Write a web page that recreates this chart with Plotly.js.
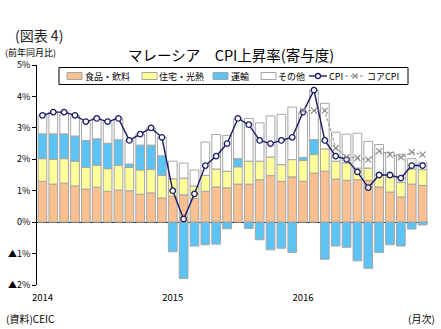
<!DOCTYPE html>
<html><head><meta charset="utf-8">
<script src="https://cdn.plot.ly/plotly-3.0.1.min.js"></script>
<style>html,body{margin:0;padding:0;background:#fff}#chart{width:441px;height:329px}</style>
</head><body><div id="chart"></div>
<script>
const months = [];
for (const y of [2014, 2015, 2016]) for (let m = 1; m <= 12; m++) months.push(y + '-' + String(m).padStart(2, '0'));

const food = [1.30,1.21,1.24,1.15,1.05,1.11,0.98,1.02,1.00,0.89,0.93,0.77,
  0.82,0.87,0.75,0.98,1.12,1.09,1.21,1.21,1.35,1.48,1.30,1.44,
  1.30,1.56,1.62,1.37,1.33,1.35,1.33,1.12,0.96,0.80,1.21,1.17];
const housing = [0.72,0.79,0.78,0.79,0.69,0.70,0.72,0.79,0.74,0.77,0.75,0.72,
  0.56,0.53,0.40,0.51,0.57,0.53,0.55,0.73,0.59,0.59,0.53,0.55,
  0.66,0.59,0.71,0.57,0.55,0.37,0.39,0.39,0.48,0.47,0.48,0.50];
const transport = [0.79,0.81,0.79,0.80,0.86,0.84,0.81,0.81,0.11,0.79,0.77,0.62,
  -0.94,-1.79,-0.76,-0.72,-0.70,-0.21,0.26,-0.20,-0.56,-0.88,-0.83,-0.96,
  0.10,0.48,-1.18,-0.76,-0.80,-1.23,-1.47,-0.97,-0.72,-0.76,-0.22,-0.09];
const others = [0.59,0.69,0.69,0.66,0.60,0.65,0.69,0.68,0.75,0.35,0.55,0.59,
  0.56,0.48,0.51,1.06,1.10,1.14,1.27,1.36,1.22,1.31,1.60,1.67,
  1.44,1.57,1.45,0.92,0.92,1.11,0.85,0.96,0.78,0.89,0.33,0.22];
const cpi = [3.4,3.5,3.5,3.4,3.2,3.3,3.2,3.3,2.6,2.8,3.0,2.7,
  1.0,0.1,0.9,1.8,2.1,2.5,3.3,3.1,2.6,2.5,2.6,2.7,
  3.5,4.2,2.6,2.1,2.0,1.6,1.1,1.5,1.5,1.4,1.8,1.8];
const core = [null,null,null,null,null,null,null,null,null,null,null,null,
  null,null,null,null,null,null,null,null,null,null,null,null,
  3.55,3.55,3.55,2.36,2.07,2.04,1.99,2.26,2.15,2.06,2.23,2.15];

const seriesNames = ['食品・飲料','住宅・光熱','運輸','その他','CPI','コアCPI'];
const yTickVals = [-2,-1,0,1,2,3,4,5];
const yTickText = ['▲2%','▲1%','0%','1%','2%','3%','4%','5%'];
const xTickVals = ['2014-01','2015-01','2016-01'];
const xTickText = ['2014','2015','2016'];

const F = '"Noto Sans CJK JP", "Noto Sans", sans-serif';
const NAVY = '#1C1C66', GREY = '#8C8C8C', EDGE = '#A6A6A6';
const colors = ['#FAC090','#FFFF99','#5CC3F5','#FFFFFF'];
const edge = {color:EDGE, width:1};

const traces = [
  {type:'bar', name:seriesNames[0], x:months, y:food, marker:{color:colors[0], line:edge}},
  {type:'bar', name:seriesNames[1], x:months, y:housing, marker:{color:colors[1], line:edge}},
  {type:'bar', name:seriesNames[2], x:months, y:transport, marker:{color:colors[2], line:edge}},
  {type:'bar', name:seriesNames[3], x:months, y:others, marker:{color:colors[3], line:edge}},
  {type:'scatter', mode:'lines+markers', name:seriesNames[4], x:months, y:cpi,
    line:{color:NAVY, width:1.4},
    marker:{symbol:'circle', size:5.5, color:'#FFFFFF', line:{color:NAVY, width:1.3}}},
  {type:'scatter', mode:'lines+markers', name:seriesNames[5], x:months, y:core,
    line:{color:GREY, width:1, dash:'3px,2px'},
    marker:{symbol:'x-thin', size:6, color:GREY, line:{color:GREY, width:1.2}}}
];

// pixel -> paper helpers (plot area: x 37..428, y 65..285)
const ML = 37, MR = 13, MT = 65, MB = 44, W = 441, H = 329;
const PW = W - ML - MR, PH = H - MT - MB;
const X = px => (px - ML) / PW;
const Y = py => (H - MB - py) / PH;

// hand-drawn legend (compact, like the original)
const LY = 76;
const shapes = [
  {type:'rect', xref:'paper', yref:'paper', x0:X(59), x1:X(408), y0:Y(67.5), y1:Y(84.5),
    fillcolor:'#fff', line:{color:'#000', width:1}, layer:'above'}
];
const annos = [];
const swatchX = [67, 142, 213, 261];
const textX = [84, 158, 230, 277, 328, 366];
for (let i = 0; i < 4; i++) {
  shapes.push({type:'rect', xref:'paper', yref:'paper', x0:X(swatchX[i]), x1:X(swatchX[i] + 15),
    y0:Y(LY + 3.5), y1:Y(LY - 3.5), fillcolor:colors[i], line:{color:EDGE, width:1}, layer:'above'});
}
shapes.push({type:'line', xref:'paper', yref:'paper', x0:X(309), x1:X(327), y0:Y(LY), y1:Y(LY),
  line:{color:NAVY, width:1.4}, layer:'above'});
shapes.push({type:'circle', xref:'paper', yref:'paper', x0:X(315.5), x1:X(320.5), y0:Y(LY + 2.5), y1:Y(LY - 2.5),
  fillcolor:'#fff', line:{color:NAVY, width:1.3}, layer:'above'});
shapes.push({type:'line', xref:'paper', yref:'paper', x0:X(345), x1:X(365), y0:Y(LY), y1:Y(LY),
  line:{color:GREY, width:1, dash:'3px,2px'}, layer:'above'});
shapes.push({type:'line', xref:'paper', yref:'paper', x0:X(352.5), x1:X(357.5), y0:Y(LY - 2.5), y1:Y(LY + 2.5),
  line:{color:GREY, width:1.2}, layer:'above'});
shapes.push({type:'line', xref:'paper', yref:'paper', x0:X(352.5), x1:X(357.5), y0:Y(LY + 2.5), y1:Y(LY - 2.5),
  line:{color:GREY, width:1.2}, layer:'above'});
for (let i = 0; i < 6; i++) {
  annos.push({text:seriesNames[i], xref:'paper', yref:'paper', x:X(textX[i]), xanchor:'left',
    y:Y(LY), yanchor:'middle', showarrow:false, font:{family:F, size:9, color:'#000'}, borderpad:0});
}

annos.push(
  {text:'(図表 4)', xref:'paper', yref:'paper', x:X(14), xanchor:'left',
    y:Y(35), yanchor:'middle', showarrow:false, font:{family:F, size:14, color:'#222'}, borderpad:0},
  {text:'(前年同月比)', xref:'paper', yref:'paper', x:X(4), xanchor:'left',
    y:Y(52.5), yanchor:'middle', showarrow:false, font:{family:F, size:9}, borderpad:0},
  {text:'(資料)CEIC', xref:'paper', yref:'paper', x:X(4), xanchor:'left',
    y:Y(318), yanchor:'middle', showarrow:false, font:{family:F, size:10}},
  {text:'(月次)', xref:'paper', yref:'paper', x:X(437), xanchor:'right',
    y:Y(318), yanchor:'middle', showarrow:false, font:{family:F, size:10}}
);

const layout = {
  width:W, height:H,
  margin:{l:ML, r:MR, t:MT, b:MB},
  paper_bgcolor:'#fff', plot_bgcolor:'#fff',
  barmode:'relative', bargap:0.2,
  font:{family:F, size:9, color:'#000'},
  title:{text:'マレーシア　CPI上昇率(寄与度)', font:{family:F, size:14.5, color:'#000'},
    x:0.524, xref:'container', xanchor:'center', y:1-56/329, yref:'container', yanchor:'middle'},
  xaxis:{type:'category', range:[-0.5,35.5], tickvals:xTickVals, ticktext:xTickText,
    showgrid:false, showline:false, zeroline:false, ticks:'', ticklabelstandoff:5,
    tickfont:{size:9.5, family:F}},
  yaxis:{range:[-2,5], tickvals:yTickVals, ticktext:yTickText, showgrid:false,
    showline:true, linecolor:'#000', linewidth:1, ticks:'outside', ticklen:4, tickcolor:'#000',
    zeroline:true, zerolinecolor:'#222', zerolinewidth:1, tickfont:{size:9, family:F}},
  showlegend:false,
  shapes:shapes,
  annotations:annos
};

Plotly.newPlot('chart', traces, layout, {displayModeBar:false, staticPlot:true});
</script></body></html>
